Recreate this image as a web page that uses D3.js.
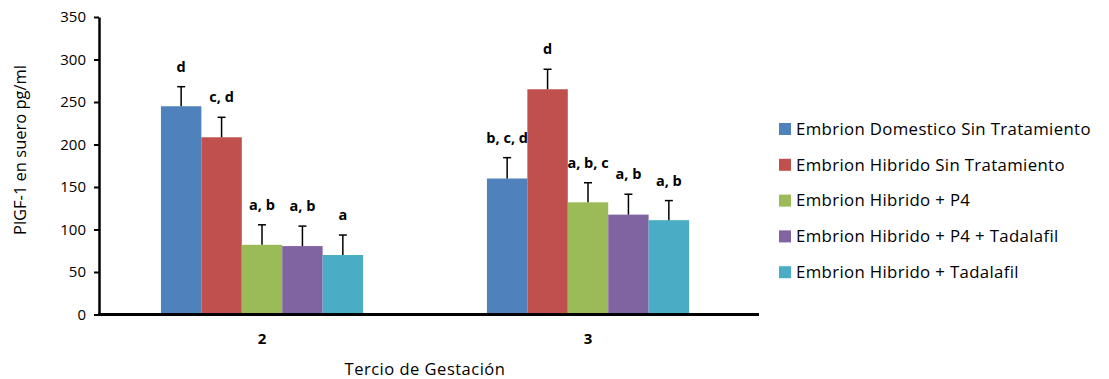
<!DOCTYPE html>
<html><head><meta charset="utf-8">
<script src="https://cdn.jsdelivr.net/npm/d3@7"></script>
<style>body{margin:0;background:#fff}</style>
</head><body>
<svg id="c" width="1109" height="379"></svg>
<script>
const categories = ["2", "3"];
const series = ["Embrion Domestico Sin Tratamiento", "Embrion Hibrido Sin Tratamiento", "Embrion Hibrido + P4", "Embrion Hibrido + P4 + Tadalafil", "Embrion Hibrido + Tadalafil"];
const colors = ["#4F81BD", "#C0504D", "#9BBB59", "#8064A2", "#4BACC6"];
const valuesT2 = [245, 208.5, 82, 80.5, 70];
const valuesT3 = [160, 265, 132, 117.5, 111];
const errorsT2 = [23, 23.5, 23.5, 23.5, 23.5];
const errorsT3 = [24.5, 23.5, 23, 24, 23];
const lettersT2 = ["d", "c, d", "a, b", "a, b", "a"];
const lettersT3 = ["b, c, d", "d", "a, b, c", "a, b", "a, b"];
const yTicks = [0, 50, 100, 150, 200, 250, 300, 350];

const values = [valuesT2, valuesT3], errors = [errorsT2, errorsT3], letters = [lettersT2, lettersT3];
const font = "Open Sans, sans-serif";
const reg = 500;
const svg = d3.select("#c");
const mLeft = 99, mRight = 751, mTop = 17, mBottom = 314.5;
const y = d3.scaleLinear().domain([0, 350]).range([mBottom, mTop]);
const x0 = d3.scaleBand().domain(categories).range([mLeft, mRight]).paddingInner(0.38).paddingOuter(0.19);
const x1 = d3.scaleBand().domain(series).range([0, x0.bandwidth()]);

const g = svg.append("g");
categories.forEach((c, ci) => {
  const grp = g.append("g").attr("transform", `translate(${x0(c)},0)`);
  series.forEach((s, si) => {
    const v = values[ci][si], e = errors[ci][si];
    const bx = x1(s), bw = x1.bandwidth(), cx = bx + bw / 2;
    grp.append("rect").attr("x", bx).attr("y", y(v)).attr("width", bw).attr("height", y(0) - y(v)).attr("fill", colors[si]);
    grp.append("line").attr("x1", cx).attr("x2", cx).attr("y1", y(v)).attr("y2", y(v + e)).attr("stroke", "#000").attr("stroke-width", 1.5);
    grp.append("line").attr("x1", cx - 4).attr("x2", cx + 4).attr("y1", y(v + e)).attr("y2", y(v + e)).attr("stroke", "#000").attr("stroke-width", 1.5);
    grp.append("text").attr("x", cx).attr("y", y(v + e) - 15).attr("text-anchor", "middle")
      .attr("font-family", font).attr("font-weight", "bold").attr("font-size", 14.5).attr("fill", "#000").text(letters[ci][si]);
  });
});

// Y axis
const ya = svg.append("g").attr("transform", `translate(${mLeft},0)`)
  .call(d3.axisLeft(y).tickValues(yTicks).tickSize(5).tickPadding(8).tickSizeOuter(0));
ya.select(".domain").attr("stroke-width", 2.5);
ya.selectAll(".tick line").attr("stroke-width", 2);
ya.selectAll("text").attr("font-family", font).attr("font-weight", reg).attr("font-size", 15).attr("fill", "#000");

// X axis
const xa = svg.append("g").attr("transform", `translate(0,${mBottom})`)
  .call(d3.axisBottom(x0).tickSize(0).tickPadding(19));
xa.select(".domain").attr("stroke-width", 3).attr("d", `M${mLeft - 1},0H${mRight + 8}`);
xa.selectAll("text").attr("font-family", font).attr("font-weight", "bold").attr("font-size", 15).attr("fill", "#000");

// Titles
svg.append("text").attr("transform", "translate(26,150) rotate(-90)").attr("text-anchor", "middle")
  .attr("font-family", font).attr("font-weight", reg).attr("font-size", 16.5).attr("fill", "#000").text("PlGF-1 en suero pg/ml");
svg.append("text").attr("x", 425).attr("y", 375).attr("text-anchor", "middle")
  .attr("font-family", font).attr("font-weight", reg).attr("font-size", 16.5).attr("letter-spacing", 0.5).attr("fill", "#000").text("Tercio de Gestación");

// Legend
const lg = svg.append("g").attr("transform", "translate(779,129)");
series.forEach((s, si) => {
  const row = lg.append("g").attr("transform", `translate(0,${si * 35.8})`);
  row.append("rect").attr("x", 0).attr("y", -6).attr("width", 12).attr("height", 12).attr("fill", colors[si]);
  row.append("text").attr("x", 17).attr("y", 0).attr("dy", "0.35em").attr("font-family", font).attr("font-weight", reg)
    .attr("font-size", 16.8).attr("letter-spacing", 0.35).attr("fill", "#000").text(s);
});
</script>
</body></html>
